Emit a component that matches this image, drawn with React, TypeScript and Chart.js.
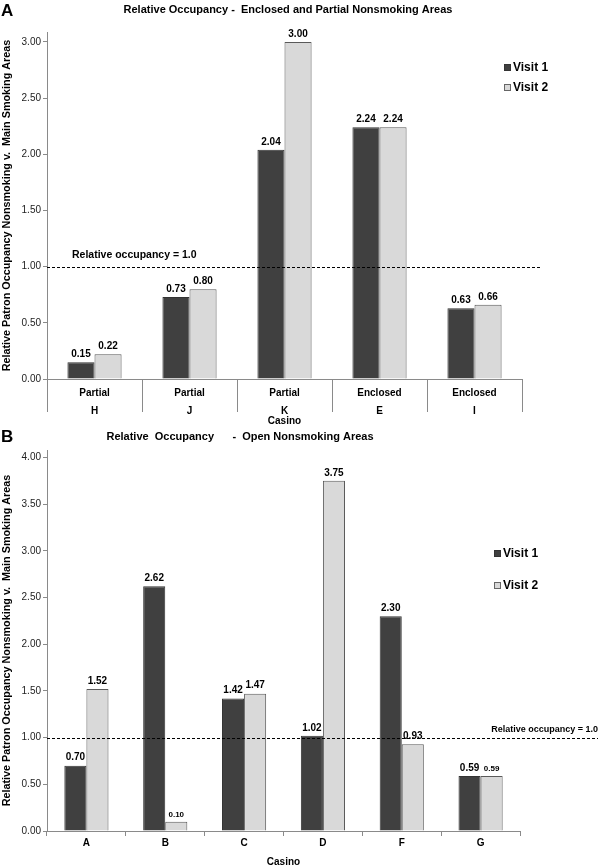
import React, { useEffect, useRef } from 'react';
import { Chart, registerables } from 'chart.js';

Chart.register(...registerables);

const FONT = '"Liberation Sans", Arial, Helvetica, sans-serif';

// ---- Panel A data ----
const areaTypesA = ['Partial', 'Partial', 'Partial', 'Enclosed', 'Enclosed'];
const casinosA = ['H', 'J', 'K', 'E', 'I'];
const visit1A = [0.15, 0.73, 2.04, 2.24, 0.63];
const visit2A = [0.22, 0.8, 3.0, 2.24, 0.66];
const yTicksA = [0, 0.5, 1, 1.5, 2, 2.5, 3];

// ---- Panel B data ----
const casinosB = ['A', 'B', 'C', 'D', 'F', 'G'];
const visit1B = [0.7, 2.62, 1.42, 1.02, 2.3, 0.59];
const visit2B = [1.52, 0.1, 1.47, 3.75, 0.93, 0.59];
const yTicksB = [0, 0.5, 1, 1.5, 2, 2.5, 3, 3.5, 4];

const seriesNames = ['Visit 1', 'Visit 2'];
const refValue = 1.0;
const refLabel = 'Relative occupancy = 1.0';
const titleA = 'Relative Occupancy -  Enclosed and Partial Nonsmoking Areas';
const titleB = 'Relative  Occupancy      -  Open Nonsmoking Areas';
const yTitle = 'Relative Patron Occupancy Nonsmoking v.  Main Smoking Areas';
const xTitle = 'Casino';

const DARK = '#404040';
const LIGHT = '#d9d9d9';
const AXIS = '#8a8a8a';

const decor = {
  id: 'decor',
  afterDraw(chart: any, _args: any, o: any) {
    const { ctx, chartArea: a } = chart;
    const ys = chart.scales.y;
    ctx.save();
    // panel letter
    ctx.fillStyle = '#000';
    ctx.textBaseline = 'middle';
    ctx.textAlign = 'left';
    ctx.font = `bold 17px ${FONT}`;
    ctx.fillText(o.letter, 1, o.letterY);
    // title
    ctx.font = `bold 11px ${FONT}`;
    ctx.textAlign = 'center';
    ctx.fillText(o.title, o.titleX, o.titleY);
    // reference line
    const ry = Math.round(ys.getPixelForValue(refValue)) + 0.5;
    ctx.strokeStyle = '#000';
    ctx.lineWidth = 1;
    ctx.setLineDash([3, 2]);
    ctx.beginPath();
    ctx.moveTo(a.left, ry);
    ctx.lineTo(o.refEnd, ry);
    ctx.stroke();
    ctx.setLineDash([]);
    ctx.font = `bold ${o.refSize}px ${FONT}`;
    ctx.textAlign = o.refAlign;
    ctx.fillText(refLabel, o.refX, ry + o.refDy);
    // value labels
    ctx.textAlign = 'center';
    ctx.textBaseline = 'bottom';
    chart.data.datasets.forEach((ds: any, di: number) => {
      const meta = chart.getDatasetMeta(di);
      meta.data.forEach((bar: any, i: number) => {
        const small = (o.small || []).some((k: number[]) => k[0] === di && k[1] === i);
        ctx.font = `bold ${small ? 8 : 10}px ${FONT}`;
        ctx.fillText(Number(ds.data[i]).toFixed(2), bar.x, bar.y - 3);
      });
    });
    // legend
    ctx.textBaseline = 'middle';
    ctx.textAlign = 'left';
    ctx.font = `bold 12px ${FONT}`;
    seriesNames.forEach((name, i) => {
      const y = o.legendY[i];
      ctx.fillStyle = i === 0 ? DARK : LIGHT;
      ctx.fillRect(o.legendX, y - 3, 7, 7);
      ctx.strokeStyle = i === 0 ? '#333' : '#666';
      ctx.strokeRect(o.legendX + 0.5, y - 2.5, 6, 6);
      ctx.fillStyle = '#000';
      ctx.fillText(name, o.legendX + 9, y + 0.5);
    });
    // category dividers
    if (o.dividers) {
      const n = chart.data.labels.length;
      ctx.strokeStyle = AXIS;
      ctx.lineWidth = 1;
      for (let i = 0; i <= n; i++) {
        const x = Math.round(a.left + (i * (a.right - a.left)) / n) + 0.5;
        ctx.beginPath();
        ctx.moveTo(x, a.bottom);
        ctx.lineTo(x, a.bottom + o.dividers);
        ctx.stroke();
      }
    }
    ctx.restore();
  },
};

function build(canvas: HTMLCanvasElement, p: any) {
  return new Chart(canvas, {
    type: 'bar',
    data: {
      labels: p.labels,
      datasets: [
        {
          label: seriesNames[0],
          data: p.v1,
          backgroundColor: DARK,
          borderColor: '#333',
          borderWidth: 1,
          categoryPercentage: p.catPct,
          barPercentage: 1,
        },
        {
          label: seriesNames[1],
          data: p.v2,
          backgroundColor: LIGHT,
          borderColor: '#5a5a5a',
          borderWidth: 1,
          categoryPercentage: p.catPct,
          barPercentage: 1,
        },
      ],
    },
    options: {
      responsive: false,
      animation: false,
      layout: { padding: { top: p.top, right: p.right, left: 0, bottom: 0 } },
      plugins: {
        legend: { display: false },
        title: { display: false },
        tooltip: { enabled: false },
        decor: p.decor,
      } as any,
      scales: {
        x: {
          grid: p.xGrid,
          border: { display: true, color: AXIS },
          ticks: {
            font: { family: FONT, size: 10, weight: 'bold', lineHeight: p.xLineHeight },
            color: '#000',
            padding: p.xTickPad,
            maxRotation: 0,
            autoSkip: false,
          },
          title: {
            display: true,
            text: xTitle,
            font: { family: FONT, size: 10, weight: 'bold' },
            color: '#000',
            padding: { top: 0, bottom: p.xTitlePad },
          },
          afterFit: (s: any) => {
            s.height = p.xHeight;
          },
        },
        y: {
          min: 0,
          max: p.max,
          grid: { drawOnChartArea: false, tickLength: 4, color: AXIS },
          border: { display: true, color: AXIS },
          ticks: {
            font: { family: FONT, size: 10 },
            color: '#222',
            padding: 2,
            callback: (v: any) => Number(v).toFixed(2),
          },
          afterBuildTicks: (s: any) => {
            s.ticks = p.yTicks.map((v: number) => ({ value: v }));
          },
          title: {
            display: true,
            text: yTitle,
            font: { family: FONT, size: 10.8, weight: 'bold' },
            color: '#000',
            padding: { top: 1, bottom: 0 },
          },
          afterFit: (s: any) => {
            s.width = p.left;
          },
        },
      },
    } as any,
    plugins: [decor],
  });
}

export default function App() {
  const refA = useRef<HTMLCanvasElement>(null);
  const refB = useRef<HTMLCanvasElement>(null);

  useEffect(() => {
    const labelsA = areaTypesA.map((t, i) => [t, casinosA[i]]);
    const cA = build(refA.current!, {
      labels: labelsA,
      v1: visit1A,
      v2: visit2A,
      yTicks: yTicksA,
      max: 3.089,
      top: 32,
      right: 78,
      left: 47,
      catPct: 0.57,
      xHeight: 51,
      xTickPad: -3,
      xLineHeight: 1.8,
      xTitlePad: 3,
      xGrid: { display: false },
      decor: {
        letter: 'A',
        letterY: 11,
        title: titleA,
        titleX: 288,
        titleY: 10,
        refEnd: 541,
        refX: 72,
        refAlign: 'left',
        refDy: -12,
        refSize: 10.5,
        legendX: 504,
        legendY: [67, 87],
        dividers: 33,
        small: [],
      },
    });
    const cB = build(refB.current!, {
      labels: casinosB,
      v1: visit1B,
      v2: visit2B,
      yTicks: yTicksB,
      max: 4.08,
      top: 20,
      right: 80,
      left: 47,
      catPct: 0.56,
      xHeight: 37,
      xTickPad: 1,
      xLineHeight: 1.2,
      xTitlePad: 0,
      xGrid: { drawOnChartArea: false, tickLength: 5, color: AXIS, offset: true },
      decor: {
        letter: 'B',
        letterY: 7,
        title: titleB,
        titleX: 240,
        titleY: 7,
        refEnd: 598,
        refX: 598,
        refAlign: 'right',
        refDy: -9,
        refSize: 9,
        legendX: 494,
        legendY: [123, 155],
        dividers: 0,
        small: [
          [1, 1],
          [1, 5],
        ],
      },
    });
    return () => {
      cA.destroy();
      cB.destroy();
    };
  }, []);

  return (
    <div style={{ position: 'absolute', left: 0, top: 0, width: 600, height: 868, background: '#fff' }}>
      <canvas ref={refA} width={600} height={430} style={{ display: 'block', width: 600, height: 430 }} />
      <canvas ref={refB} width={600} height={438} style={{ display: 'block', width: 600, height: 438 }} />
    </div>
  );
}
